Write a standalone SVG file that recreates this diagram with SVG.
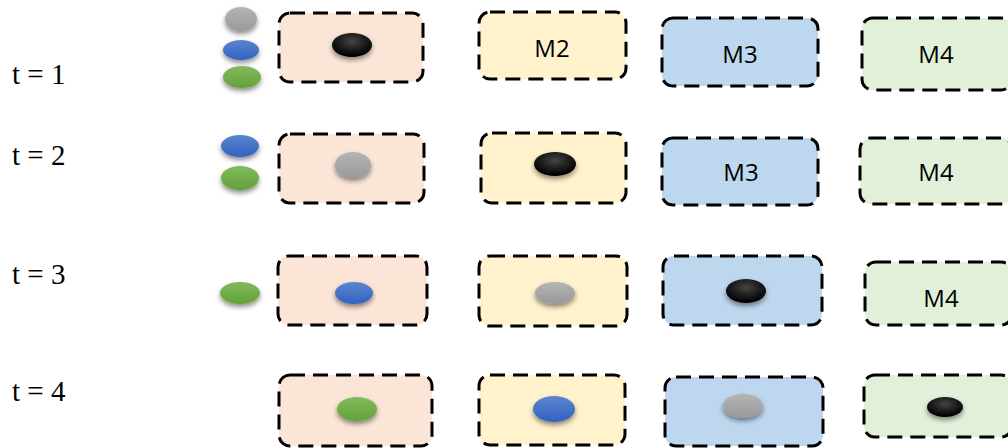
<svg xmlns="http://www.w3.org/2000/svg" width="1008" height="448" viewBox="0 0 1008 448">
<defs>
<style>
.box{stroke:#000;stroke-width:3;stroke-dasharray:15 8;}
.peach{fill:#FBE5D6}.yel{fill:#FFF2CC}.blu{fill:#BDD7EE}.grn{fill:#E2F0D9}
.lbl{font-family:"Open Sans","Liberation Sans",sans-serif;font-size:24px;fill:#000;text-anchor:middle}
.t{font-family:"Liberation Serif",serif;font-size:29px;fill:#000}
</style>
<linearGradient id="gGrey" x1="0" y1="0" x2="0" y2="1"><stop offset="0" stop-color="#B4B4B4"/><stop offset="1" stop-color="#999"/></linearGradient>
<linearGradient id="gBlue" x1="0" y1="0" x2="0" y2="1"><stop offset="0" stop-color="#5B85D1"/><stop offset="1" stop-color="#3263BE"/></linearGradient>
<linearGradient id="gGreen" x1="0" y1="0" x2="0" y2="1"><stop offset="0" stop-color="#83BA5C"/><stop offset="1" stop-color="#62A23A"/></linearGradient>
<radialGradient id="gBlack" cx="0.5" cy="0.35" r="0.6"><stop offset="0" stop-color="#444"/><stop offset="1" stop-color="#000"/></radialGradient>
<filter id="sh" x="-50%" y="-50%" width="200%" height="220%"><feDropShadow dx="0" dy="3" stdDeviation="2.5" flood-color="#000" flood-opacity="0.45"/></filter>
</defs>
<g id="labels">
<text class="t" x="12" y="84">t = 1</text>
<text class="t" x="12" y="165">t = 2</text>
<text class="t" x="12" y="284">t = 3</text>
<text class="t" x="12" y="401">t = 4</text>
</g>
<g id="row1">
<g id="r1-queue">
<ellipse cx="241" cy="19" rx="16" ry="12" fill="url(#gGrey)" filter="url(#sh)"/>
<ellipse cx="241" cy="50" rx="18" ry="10" fill="url(#gBlue)" filter="url(#sh)"/>
<ellipse cx="242" cy="77" rx="19" ry="11" fill="url(#gGreen)" filter="url(#sh)"/>
</g>
<g id="r1-m1"><rect class="box peach" x="279" y="13" width="144" height="69" rx="11"/><ellipse cx="352" cy="45" rx="20" ry="12" fill="url(#gBlack)" filter="url(#sh)"/></g>
<g id="r1-m2"><rect class="box yel" x="479" y="12" width="147" height="67" rx="11"/><text class="lbl" x="552" y="57">M2</text></g>
<g id="r1-m3"><rect class="box blu" x="662" y="18" width="156" height="68" rx="11"/><text class="lbl" x="740" y="63">M3</text></g>
<g id="r1-m4"><rect class="box grn" x="862" y="18" width="150" height="72" rx="11"/><text class="lbl" x="936" y="63">M4</text></g>
</g>
<g id="row2">
<g id="r2-queue">
<ellipse cx="240" cy="146" rx="19" ry="11" fill="url(#gBlue)" filter="url(#sh)"/>
<ellipse cx="240" cy="178" rx="19" ry="12" fill="url(#gGreen)" filter="url(#sh)"/>
</g>
<g id="r2-m1"><rect class="box peach" x="279" y="134" width="145" height="69" rx="11"/><ellipse cx="353" cy="165" rx="18" ry="13" fill="url(#gGrey)" filter="url(#sh)"/></g>
<g id="r2-m2"><rect class="box yel" x="481" y="133" width="145" height="70" rx="11"/><ellipse cx="555" cy="164" rx="21" ry="12" fill="url(#gBlack)" filter="url(#sh)"/></g>
<g id="r2-m3"><rect class="box blu" x="662" y="138" width="156" height="67" rx="11"/><text class="lbl" x="741" y="181">M3</text></g>
<g id="r2-m4"><rect class="box grn" x="860" y="138" width="152" height="66" rx="11"/><text class="lbl" x="936" y="181">M4</text></g>
</g>
<g id="row3">
<g id="r3-queue"><ellipse cx="240" cy="293" rx="20" ry="11" fill="url(#gGreen)" filter="url(#sh)"/></g>
<g id="r3-m1"><rect class="box peach" x="278" y="256" width="149" height="69" rx="11"/><ellipse cx="354" cy="293" rx="19" ry="11" fill="url(#gBlue)" filter="url(#sh)"/></g>
<g id="r3-m2"><rect class="box yel" x="479" y="256" width="148" height="70" rx="11"/><ellipse cx="555" cy="293" rx="20" ry="11" fill="url(#gGrey)" filter="url(#sh)"/></g>
<g id="r3-m3"><rect class="box blu" x="663" y="256" width="159" height="69" rx="11"/><ellipse cx="746" cy="291" rx="20" ry="12" fill="url(#gBlack)" filter="url(#sh)"/></g>
<g id="r3-m4"><rect class="box grn" x="865" y="262" width="147" height="63" rx="11"/><text class="lbl" x="941" y="307">M4</text></g>
</g>
<g id="row4">
<g id="r4-m1"><rect class="box peach" x="279" y="375" width="153" height="71" rx="11"/><ellipse cx="357" cy="409" rx="20" ry="12" fill="url(#gGreen)" filter="url(#sh)"/></g>
<g id="r4-m2"><rect class="box yel" x="479" y="375" width="146" height="70" rx="11"/><ellipse cx="554" cy="409" rx="21" ry="13" fill="url(#gBlue)" filter="url(#sh)"/></g>
<g id="r4-m3"><rect class="box blu" x="665" y="377" width="158" height="69" rx="11"/><ellipse cx="743" cy="406" rx="20" ry="12" fill="url(#gGrey)" filter="url(#sh)"/></g>
<g id="r4-m4"><rect class="box grn" x="864" y="375" width="148" height="62" rx="11"/><ellipse cx="945" cy="407" rx="18" ry="10" fill="url(#gBlack)" filter="url(#sh)"/></g>
</g>
<g id="connectors"/>
</svg>
